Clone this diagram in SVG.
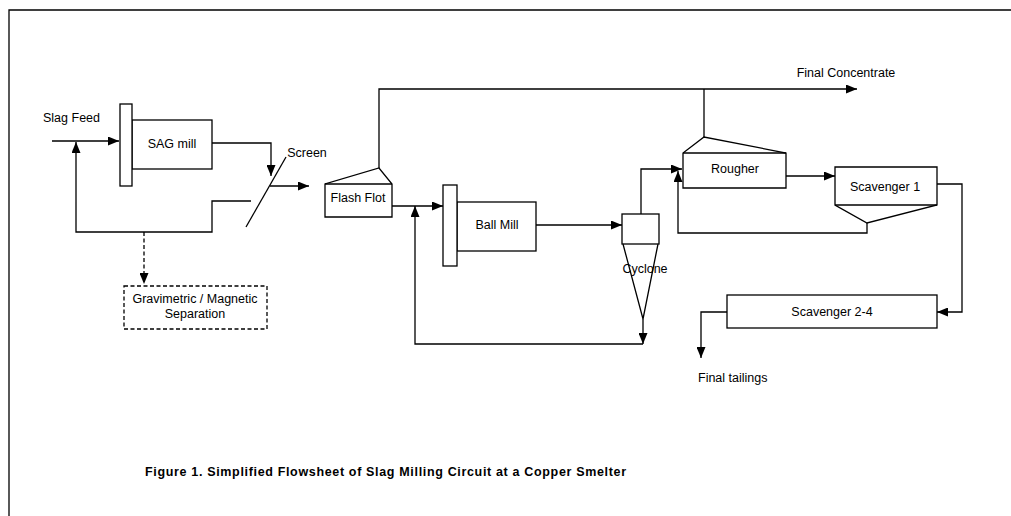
<svg xmlns="http://www.w3.org/2000/svg" width="1011" height="516" viewBox="0 0 1011 516">
<style>
  .ln { fill: none; stroke: #000; stroke-width: 1.3; }
  .dash { fill: none; stroke: #000; stroke-width: 1.3; stroke-dasharray: 4 2.5; }
  .box { fill: #fff; stroke: #000; stroke-width: 1.3; }
  .t { font-family: "Liberation Sans", Arial, sans-serif; font-size: 12.5px; fill: #000; }
  .c { text-anchor: middle; }
  .cap { font-family: "Liberation Sans", Arial, sans-serif; font-size: 12.5px; font-weight: bold; fill: #000; }
</style>
<defs>
  <marker id="ah" markerUnits="userSpaceOnUse" markerWidth="11" markerHeight="9" refX="11" refY="4.5" orient="auto">
    <path d="M0,0 L11,4.5 L0,9 Z" fill="#000"/>
  </marker>
</defs>
<rect x="0" y="0" width="1011" height="516" fill="#fff"/>
<path id="frame" class="ln" d="M9,516 V10 H1011" stroke-width="1.6"/>

<g id="connectors">
  <path class="ln" d="M52,141 H119" marker-end="url(#ah)"/>
  <path class="ln" d="M212,143 H271 V176" marker-end="url(#ah)"/>
  <path class="ln" d="M270,186 H309" marker-end="url(#ah)"/>
  <path class="ln" d="M251,201 H212 V232 H76 V142" marker-end="url(#ah)"/>
  <path class="dash" d="M144,232 V284" marker-end="url(#ah)"/>
  <path class="ln" d="M379,168 V89 H857" marker-end="url(#ah)"/>
  <path class="ln" d="M704,137 V89"/>
  <path class="ln" d="M392,206 H443" marker-end="url(#ah)"/>
  <path class="ln" d="M536,225 H622" marker-end="url(#ah)"/>
  <path class="ln" d="M643,319 V344" marker-end="url(#ah)"/>
  <path class="ln" d="M643,344 H415 V206" marker-end="url(#ah)"/>
  <path class="ln" d="M641,214 V169 H682" marker-end="url(#ah)"/>
  <path class="ln" d="M786,176 H835" marker-end="url(#ah)"/>
  <path class="ln" d="M867,223 V233 H678 V171" marker-end="url(#ah)"/>
  <path class="ln" d="M937,184 H962 V312 H937" marker-end="url(#ah)"/>
  <path class="ln" d="M727,312 H701 V358" marker-end="url(#ah)"/>
</g>

<g id="slag-feed">
  <text class="t" x="43" y="122">Slag Feed</text>
</g>

<g id="sag-mill">
  <rect class="box" x="132" y="120" width="80" height="49"/>
  <rect class="box" x="120" y="104" width="12" height="82"/>
  <text class="t c" x="172" y="148">SAG mill</text>
</g>

<g id="screen">
  <line class="ln" x1="246" y1="227" x2="286" y2="157"/>
  <text class="t c" x="307" y="157">Screen</text>
</g>

<g id="flash-flot">
  <path class="box" d="M325,217 V184 L379,168 L392,184 V217 Z"/>
  <line class="ln" x1="325" y1="184" x2="392" y2="184"/>
  <text class="t c" x="358" y="202">Flash Flot</text>
</g>

<g id="ball-mill">
  <rect class="box" x="457" y="202" width="79" height="49"/>
  <rect class="box" x="443" y="185" width="14" height="81"/>
  <text class="t c" x="497" y="229">Ball Mill</text>
</g>

<g id="cyclone">
  <rect class="box" x="622" y="214" width="37" height="30"/>
  <path class="ln" d="M623,244 L643,319 L658,244"/>
  <text class="t c" x="645" y="273">Cyclone</text>
</g>

<g id="rougher">
  <path class="box" d="M683,188 V153 L704,137 L786,153 V188 Z"/>
  <line class="ln" x1="683" y1="153" x2="786" y2="153"/>
  <text class="t c" x="735" y="173">Rougher</text>
</g>

<g id="scavenger-1">
  <path class="box" d="M835,167 H937 V205 L867,223 L835,205 Z"/>
  <line class="ln" x1="835" y1="205" x2="937" y2="205"/>
  <text class="t c" x="885" y="191">Scavenger 1</text>
</g>

<g id="scavenger-2-4">
  <rect class="box" x="727" y="295" width="210" height="33"/>
  <text class="t c" x="832" y="316">Scavenger 2-4</text>
</g>

<g id="gravimetric">
  <rect class="dash" x="124" y="286" width="143" height="43"/>
  <text class="t c" x="195" y="303">Gravimetric / Magnetic</text>
  <text class="t c" x="195" y="318">Separation</text>
</g>

<g id="final-concentrate">
  <text class="t c" x="846" y="77">Final Concentrate</text>
</g>

<g id="final-tailings">
  <text class="t" x="698" y="382">Final tailings</text>
</g>

<g id="caption">
  <text class="cap" x="145" y="476" textLength="481" lengthAdjust="spacing">Figure 1. Simplified Flowsheet of Slag Milling Circuit at a Copper Smelter</text>
</g>
</svg>
